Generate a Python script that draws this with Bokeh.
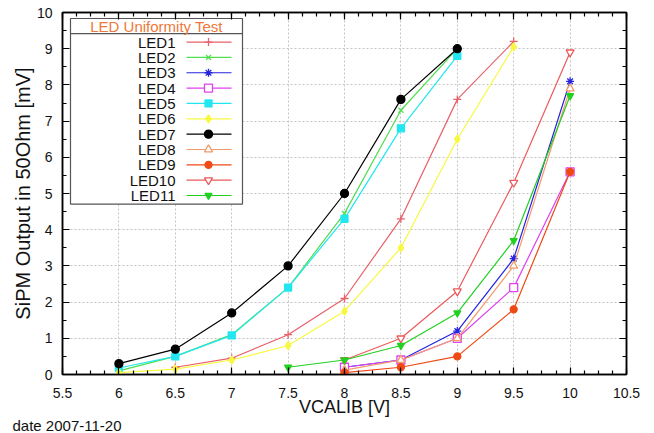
from bokeh.plotting import figure
from bokeh.models import (Range1d, LinearAxis, SingleIntervalTicker,
                          CustomJSTickFormatter, Label, Title)
from bokeh.embed import file_html
from bokeh.resources import INLINE

# ---------------- data ----------------
led_names = ["LED1", "LED2", "LED3", "LED4", "LED5", "LED6",
             "LED7", "LED8", "LED9", "LED10", "LED11"]

x_led1 = [6.5, 7, 7.5, 8, 8.5, 9, 9.5]
y_led1 = [0.2, 0.45, 1.1, 2.1, 4.3, 7.6, 9.2]
x_led2 = [6, 6.5, 7, 7.5, 8, 8.5, 9]
y_led2 = [0.1, 0.5, 1.1, 2.4, 4.45, 7.3, 9.0]
x_led3 = [8, 8.5, 9, 9.5, 10]
y_led3 = [0.2, 0.4, 1.2, 3.2, 8.1]
x_led4 = [8, 8.5, 9, 9.5, 10]
y_led4 = [0.2, 0.4, 1.0, 2.4, 5.6]
x_led5 = [6, 6.5, 7, 7.5, 8, 8.5, 9]
y_led5 = [0.18, 0.5, 1.08, 2.4, 4.3, 6.8, 8.8]
x_led6 = [6, 6.5, 7, 7.5, 8, 8.5, 9, 9.5]
y_led6 = [0.05, 0.15, 0.4, 0.8, 1.75, 3.5, 6.5, 9.05]
x_led7 = [6, 6.5, 7, 7.5, 8, 8.5, 9]
y_led7 = [0.3, 0.7, 1.7, 3.0, 5.0, 7.6, 9.0]
x_led8 = [8, 8.5, 9, 9.5, 10]
y_led8 = [0.12, 0.4, 1.0, 3.0, 7.9]
x_led9 = [8, 8.5, 9, 9.5, 10]
y_led9 = [0.05, 0.2, 0.5, 1.8, 5.6]
x_led10 = [8, 8.5, 9, 9.5, 10]
y_led10 = [0.4, 1.0, 2.3, 5.3, 8.9]
x_led11 = [7.5, 8, 8.5, 9, 9.5, 10]
y_led11 = [0.2, 0.4, 0.8, 1.7, 3.7, 7.7]

xs_all = [x_led1, x_led2, x_led3, x_led4, x_led5, x_led6,
          x_led7, x_led8, x_led9, x_led10, x_led11]
ys_all = [y_led1, y_led2, y_led3, y_led4, y_led5, y_led6,
          y_led7, y_led8, y_led9, y_led10, y_led11]

# ---------------- styles ----------------
colors = ["#e8606a", "#4fdf4f", "#2424e0", "#e040f0", "#22e6f0", "#f8f840",
          "#000000", "#f29a6a", "#f04a14", "#ec5a5a", "#22d022"]
markers = ["cross", "x", "asterisk", "square", "square", "diamond",
           "circle", "triangle", "circle", "inverted_triangle", "inverted_triangle"]
filled = [True, True, True, False, True, True, True, False, True, False, True]
sizes = [8, 7, 8, 8, 7, 8, 8, 8, 7, 8, 7]

FONT = "Liberation Sans"

p = figure(width=654, height=433, output_backend="svg", toolbar_location=None,
           x_range=Range1d(5.5, 10.5), y_range=Range1d(0, 10),
           min_border_left=62, min_border_right=28, min_border_top=12,
           min_border_bottom=0)

p.outline_line_color = "black"
p.outline_line_width = 1.5
p.background_fill_color = "white"
p.border_fill_color = "white"

xt = SingleIntervalTicker(interval=0.5, num_minor_ticks=4)
yt = SingleIntervalTicker(interval=1, num_minor_ticks=2)
fmt = CustomJSTickFormatter(code="return String(Math.round(tick*10)/10);")

p.xaxis.ticker = xt
p.yaxis.ticker = yt
p.xgrid.ticker = xt
p.ygrid.ticker = yt
p.xaxis.formatter = fmt

for g in (p.xgrid, p.ygrid):
    g.grid_line_color = "#c4c4c4"
    g.grid_line_dash = "2 2"
    g.grid_line_width = 1

for ax in (p.xaxis, p.yaxis):
    ax.axis_line_color = "black"
    ax.axis_line_width = 1.5
    ax.major_tick_in = 7
    ax.major_tick_out = 0
    ax.minor_tick_in = 4
    ax.minor_tick_out = 0
    ax.major_tick_line_color = "black"
    ax.minor_tick_line_color = "black"
    ax.major_tick_line_width = 1.2
    ax.minor_tick_line_width = 1.2
    ax.major_label_text_font = FONT
    ax.major_label_text_font_size = "14px"
    ax.major_label_text_color = "#111111"
    ax.axis_label_text_font = FONT
    ax.axis_label_text_font_style = "normal"
    ax.axis_label_text_color = "#111111"

p.xaxis.axis_label = "VCALIB [V]"
p.xaxis.axis_label_text_font_size = "18px"
p.xaxis.major_label_standoff = 13
p.xaxis.axis_label_standoff = -4
p.yaxis.axis_label = "SiPM Output in 50Ohm [mV]"
p.yaxis.axis_label_text_font_size = "20px"
p.yaxis.major_label_standoff = 10
p.yaxis.axis_label_standoff = 0

# mirrored axes (ticks only, labels not drawn)
top_ax = LinearAxis(ticker=xt, major_label_text_font_size="1px",
                    major_label_text_color=None,
                    major_label_standoff=0, axis_line_color="black",
                    axis_line_width=1.5)
right_ax = LinearAxis(ticker=yt, major_label_text_font_size="1px",
                      major_label_text_color=None,
                      major_label_standoff=0, axis_line_color="black",
                      axis_line_width=1.5)
for ax in (top_ax, right_ax):
    ax.major_tick_in = 7
    ax.major_tick_out = 0
    ax.minor_tick_in = 4
    ax.minor_tick_out = 0
    ax.major_tick_line_width = 1.2
    ax.minor_tick_line_width = 1.2
p.add_layout(top_ax, "above")
p.add_layout(right_ax, "right")

# ---------------- series ----------------
for xs, ys, c, m, f, s in zip(xs_all, ys_all, colors, markers, filled, sizes):
    p.line(xs, ys, line_color=c, line_width=1.2)
    p.scatter(xs, ys, marker=m, size=s, line_color=c, line_width=1.3,
              fill_color=(c if f else "white"))

# ---------------- legend (drawn manually, label left of sample) ----------------
FW, FH = 564.0, 361.0


def dx(px):
    return 5.5 + px * 5.0 / FW


def dy(py):
    return 10.0 - py * 10.0 / FH


p.quad(left=[dx(8)], right=[dx(180)], top=[dy(6)], bottom=[dy(191)],
       fill_color="white", line_color="#555555", line_width=1.2)
p.segment(x0=[dx(8)], x1=[dx(180)], y0=[dy(21)], y1=[dy(21)],
          line_color="#555555", line_width=1.2)
p.add_layout(Label(x=dx(94), y=dy(13.5), text="LED Uniformity Test",
                   text_align="center", text_baseline="middle",
                   text_color="#f0783a", text_font=FONT,
                   text_font_size="15px"))

for i, (name, c, m, f, s) in enumerate(zip(led_names, colors, markers, filled, sizes)):
    yy = dy(29.5 + 15.3 * i)
    p.add_layout(Label(x=dx(113), y=yy, text=name, text_align="right",
                       text_baseline="middle", text_font=FONT,
                       text_font_size="15px", text_color="#111111"))
    p.segment(x0=[dx(124)], x1=[dx(169)], y0=[yy], y1=[yy],
              line_color=c, line_width=1.2)
    p.scatter([dx(146)], [yy], marker=m, size=s, line_color=c, line_width=1.3,
              fill_color=(c if f else "white"))

# ---------------- date note (below the x axis, left) ----------------
p.add_layout(Title(text="date 2007-11-20", align="left", offset=-50,
                   vertical_align="top", standoff=-5,
                   text_font=FONT, text_font_size="15px",
                   text_font_style="normal", text_color="#111111"), "below")

open("out.html", "w").write(file_html(p, INLINE))
